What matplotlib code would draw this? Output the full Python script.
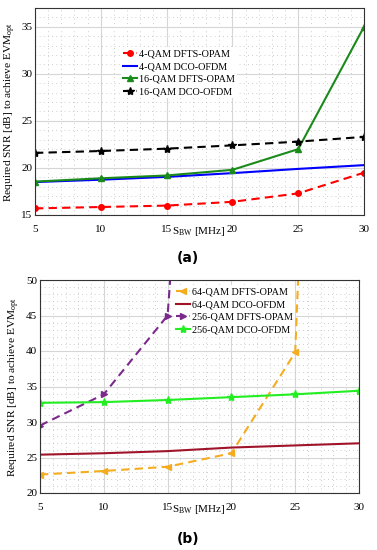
import matplotlib
matplotlib.use("Agg")
import matplotlib.pyplot as plt
from matplotlib.ticker import AutoMinorLocator

# ==================================================
# Data
# ==================================================
bw = [5, 10, 15, 20, 25, 30]

qam4_dfts = [15.7, 15.85, 16.0, 16.4, 17.3, 19.5]
qam4_dco = [18.5, 18.75, 19.05, 19.45, 19.9, 20.3]
qam16_dfts = [18.55, 18.9, 19.2, 19.8, 22.0, 35.0]
qam16_dco = [21.6, 21.8, 22.05, 22.4, 22.8, 23.3]

qam64_dfts = [22.6, 23.1, 23.7, 25.6, 39.8, 265.0]
qam64_dco = [25.4, 25.6, 25.9, 26.4, 26.7, 27.0]
qam256_dfts = [29.5, 33.9, 45.0, 170.0]
qam256_dco = [32.7, 32.8, 33.1, 33.5, 33.9, 34.4]

xticks = [5, 10, 15, 20, 25, 30]

plt.rcParams["font.family"] = ["Liberation Serif", "DejaVu Serif"]
plt.rcParams["mathtext.fontset"] = "stix"

W, H = 377, 550
fig = plt.figure(figsize=(W / 100, H / 100), dpi=100)
DASH = (0, (4, 2.5))


def px_axes(l, t, r, b):
    return fig.add_axes([l / W, 1 - b / H, (r - l) / W, (b - t) / H])


def style(ax, ylim, yticks, ylab_x, xlab_xy):
    ax.set_xlim(5, 30)
    ax.set_ylim(*ylim)
    ax.set_xticks(xticks)
    ax.set_yticks(yticks)
    ax.xaxis.set_minor_locator(AutoMinorLocator(5))
    ax.yaxis.set_minor_locator(AutoMinorLocator(5))
    ax.grid(which="major", color="#d6d6d6", lw=0.8)
    ax.grid(which="minor", color="#bdbdbd", lw=0.6, ls=(0, (1, 4)))
    ax.set_axisbelow(True)
    ax.tick_params(which="both", direction="in", length=0, labelsize=8)
    ax.tick_params(axis="x", pad=7)
    ax.tick_params(axis="y", pad=2)
    for s in ax.spines.values():
        s.set_color("#333333")
        s.set_linewidth(0.8)
    ax.set_ylabel("Required SNR [dB] to achieve EVM$_{\\mathregular{opt}}$", fontsize=8.2)
    ax.yaxis.set_label_coords(ylab_x, 0.5)
    fig.text(xlab_xy[0] / W, 1 - xlab_xy[1] / H, "S$_{\\mathregular{BW}}$ [MHz]",
             fontsize=8, ha="center", va="center")


def frame_legend(ax, anchor):
    leg = ax.legend(loc="upper left", bbox_to_anchor=anchor, fontsize=7.3, frameon=True,
                    handlelength=1.4, handletextpad=0.2, borderpad=0.2, labelspacing=0.35,
                    borderaxespad=0)
    leg.get_frame().set_edgecolor("none")
    leg.get_frame().set_facecolor("white")
    leg.get_frame().set_alpha(1)


# ---------------- (a) ----------------
ax1 = px_axes(35, 8, 364, 215)
ax1.plot(bw, qam4_dfts, color="red", ls=DASH, lw=1.5, marker="o", ms=4, label="4-QAM DFTS-OPAM")
ax1.plot(bw, qam4_dco, color="blue", lw=1.5, label="4-QAM DCO-OFDM")
ax1.plot(bw, qam16_dfts, color="#1a8a1a", lw=1.5, marker="^", ms=4, label="16-QAM DFTS-OPAM")
ax1.plot(bw, qam16_dco, color="black", ls=DASH, lw=1.5, marker="*", ms=6, label="16-QAM DCO-OFDM")
style(ax1, (15, 37), [15, 20, 25, 30, 35], (18 - 35) / 329, (199, 232))
frame_legend(ax1, (0.26, 0.81))
fig.text(188 / W, 1 - 258 / H, "(a)", fontsize=10, fontweight="bold", family="DejaVu Sans",
         ha="center", va="center")

# ---------------- (b) ----------------
ax2 = px_axes(40, 280, 359, 493)
ax2.plot(bw, qam64_dfts, color="#f5ac1f", ls=DASH, lw=1.5, marker="<", ms=5, label="64-QAM DFTS-OPAM")
ax2.plot(bw, qam64_dco, color="#a0142a", lw=1.5, label="64-QAM DCO-OFDM")
ax2.plot(bw[:4], qam256_dfts, color="#7b2a8c", ls=DASH, lw=1.5, marker=">", ms=5, label="256-QAM DFTS-OPAM")
ax2.plot(bw, qam256_dco, color="#22ee22", lw=1.5, marker="*", ms=6, label="256-QAM DCO-OFDM")
style(ax2, (20, 50), [20, 25, 30, 35, 40, 45, 50], (22 - 40) / 319, (199, 510))
frame_legend(ax2, (0.42, 0.975))
fig.text(188 / W, 1 - 539 / H, "(b)", fontsize=10, fontweight="bold", family="DejaVu Sans",
         ha="center", va="center")

fig.savefig("out.png", dpi=100)
plt.close(fig)
